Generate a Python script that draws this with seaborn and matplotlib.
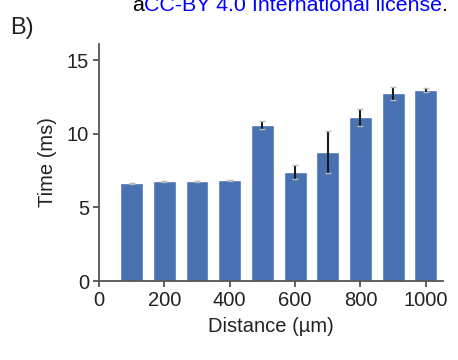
import numpy as np
import pandas as pd
import seaborn as sns
import matplotlib.pyplot as plt

distance = [100, 200, 300, 400, 500, 600, 700, 800, 900, 1000]
time_ms = [6.63, 6.78, 6.78, 6.86, 10.58, 7.40, 8.76, 11.13, 12.76, 12.96]
time_err = [0.03, 0.03, 0.03, 0.03, 0.26, 0.47, 1.40, 0.58, 0.45, 0.13]

sns.set_style('ticks')
plt.rcParams['font.family'] = ['Liberation Sans', 'DejaVu Sans']

df = pd.DataFrame({'Distance': distance, 'Time': time_ms})

fig = plt.figure(figsize=(4.58, 3.6), dpi=100)
ax = fig.add_axes([0.216, 0.219, 0.751, 0.659])

sns.barplot(data=df, x='Distance', y='Time', native_scale=True, width=0.7,
            color='#4872b2', saturation=1, errorbar=None, ax=ax)
line, caps, bars = ax.errorbar(distance, time_ms, yerr=time_err, fmt='none',
                               ecolor='#1a1a1a', elinewidth=1.5, capsize=2.5,
                               capthick=1)
for c in caps:
    c.set_markeredgecolor('#b8b8b8')

ax.set_xlim(0, 1052)
ax.set_ylim(0, 16.1)
ax.set_xticks([0, 200, 400, 600, 800, 1000])
ax.set_yticks([0, 5, 10, 15])
ax.set_xlabel('Distance (µm)', fontsize=14.5, color='#222222', labelpad=5)
ax.set_ylabel('Time (ms)', fontsize=14.5, color='#222222', labelpad=7)
ax.tick_params(labelsize=14.5, colors='#444444', labelcolor='#222222',
               length=4, width=1.2, pad=3)
for s in ['left', 'bottom']:
    ax.spines[s].set_color('#555555')
    ax.spines[s].set_linewidth(1.3)
sns.despine(ax=ax)

fig.text(0.022, 0.905, 'B)', fontsize=17, color='#222222')
t1 = fig.text(0.289, 0.969, 'a', fontsize=15.4, color='black', va='baseline')
t2 = ax.annotate('CC-BY 4.0 International license', xy=(1, 0), xycoords=t1,
                 fontsize=15.4, color='#0000ff', va='bottom', annotation_clip=False)
ax.annotate('.', xy=(1, 0), xycoords=t2, fontsize=15.4, color='black',
            va='bottom', annotation_clip=False)

fig.savefig('out.png', dpi=100)
